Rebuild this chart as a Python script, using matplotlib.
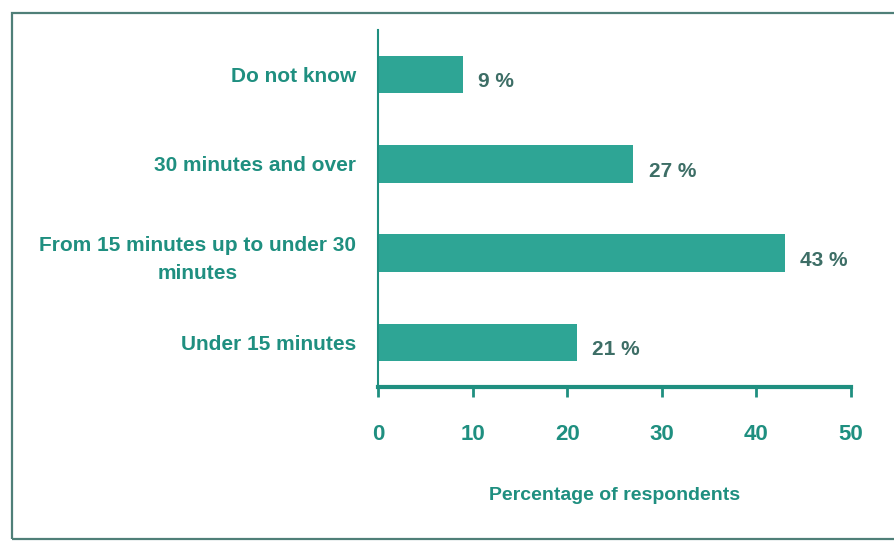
import matplotlib.pyplot as plt
from matplotlib import font_manager
from matplotlib.patches import Rectangle

# --- data ---
categories = ["Under 15 minutes",
              "From 15 minutes up to under 30\nminutes",
              "30 minutes and over",
              "Do not know"]
values = [21, 43, 27, 9]
value_labels = ["21 %", "43 %", "27 %", "9 %"]
xticks = [0, 10, 20, 30, 40, 50]

# condensed look if available
names = {f.name for f in font_manager.fontManager.ttflist}
family = ["Liberation Sans Narrow", "DejaVu Sans"] if "Liberation Sans Narrow" in names else ["Liberation Sans", "DejaVu Sans"]
plt.rcParams["font.family"] = family

BAR = "#2ea595"
TXT = "#1f8f80"
VAL = "#3d6e66"

fig = plt.figure(figsize=(8.94, 5.44), dpi=100)
ax = fig.add_axes([378 / 894, 157 / 544, (851 - 378) / 894, (514 - 157) / 544])

# frame around the chart
fig.patches.append(Rectangle((12 / 894, 5 / 544), 1.0, 526 / 544, transform=fig.transFigure,
                             fill=False, edgecolor="#4f7f78", linewidth=1.6, clip_on=False))

ypos = list(range(len(categories)))
ax.barh(ypos, values, height=0.42, color=BAR)

for y, v, lab in zip(ypos, values, value_labels):
    ax.text(v + 1.6, y - 0.08, lab, color=VAL, fontsize=15, fontweight="bold",
            va="center", ha="left")

ax.set_xlim(0, 50)
ax.set_ylim(-0.5, 3.5)
ax.set_xticks(xticks)
ax.set_xticklabels([str(t) for t in xticks])
ax.set_yticks(ypos)
ax.set_yticklabels(categories, ha="right", multialignment="center", linespacing=1.6,
                   fontsize=15, fontweight="bold", color=TXT)
ax.tick_params(axis="y", length=0, pad=16)
ax.tick_params(axis="x", direction="out", length=7, width=2, color=TXT,
               labelsize=16, labelcolor=TXT, pad=20)
for lbl in ax.get_xticklabels():
    lbl.set_fontweight("bold")

for s in ["top", "right"]:
    ax.spines[s].set_visible(False)
ax.spines["left"].set_color(TXT)
ax.spines["left"].set_linewidth(1.5)
ax.spines["bottom"].set_color(TXT)
ax.spines["bottom"].set_linewidth(3)

ax.set_xlabel("Percentage of respondents", color=TXT, fontsize=14,
              fontweight="bold", labelpad=30)

fig.savefig("out.png", dpi=100)
